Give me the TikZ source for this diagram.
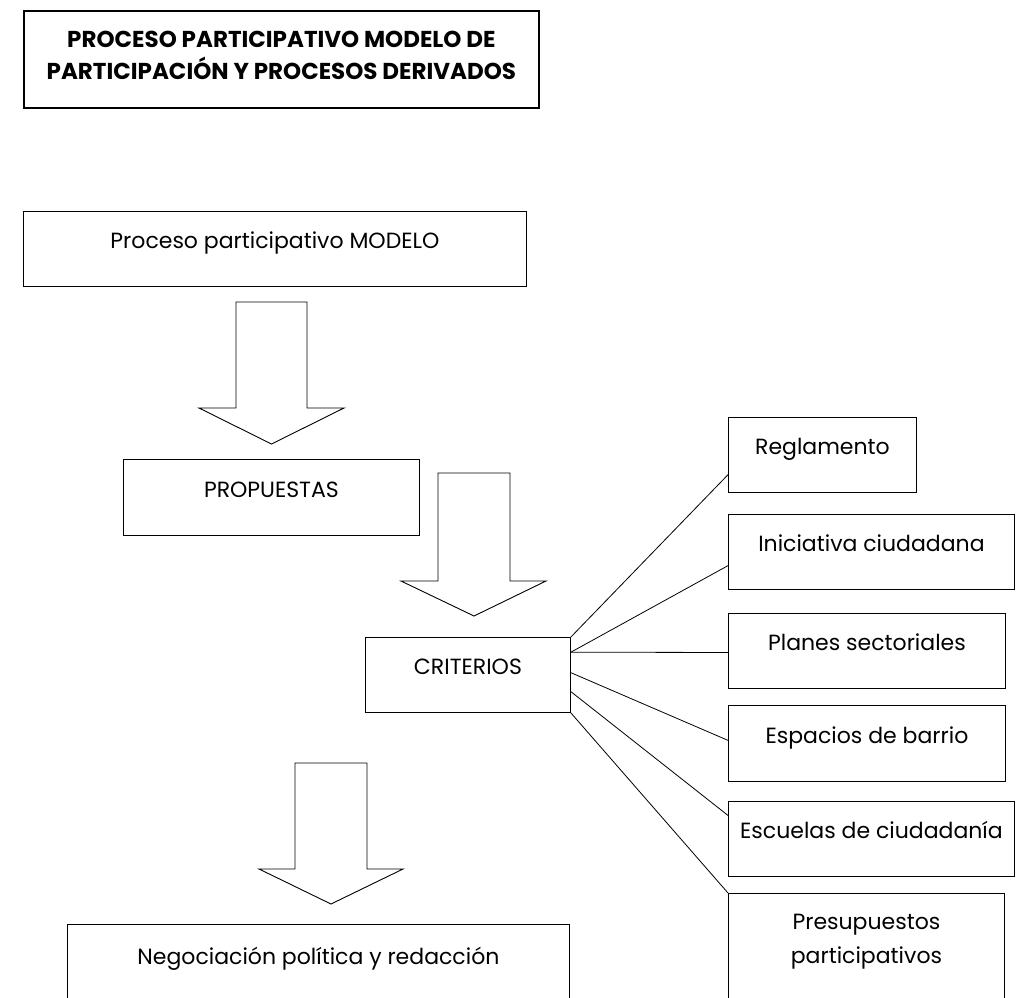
\documentclass[tikz,border=0pt]{standalone}
\usepackage{fontspec}
\setmainfont{Poppins}
\usetikzlibrary{calc}

\tikzset{
  caja/.style={draw, rectangle, line width=0.9pt, inner sep=0pt,
    font=\fontsize{22}{34}\selectfont, text height=13pt, text depth=13pt},
  linea/.style={line width=0.8pt},
  flecha/.style={line width=0.9pt, line join=miter},
}

\begin{document}
\begin{tikzpicture}[x=1pt, y=-1pt]
\clip (0,0) rectangle (1022,997);

% title
\node[draw, line width=1.8pt, anchor=north west, minimum width=515, minimum height=97,
  align=center, text depth=8pt, font=\fontsize{23}{32}\selectfont\bfseries] (titulo) at (23,10)
  {PROCESO PARTICIPATIVO MODELO DE\\PARTICIPACIÓN Y PROCESOS DERIVADOS};

% main column
\node[caja, anchor=north west, minimum width=503, minimum height=75] (modelo) at (23,211) {Proceso participativo MODELO};
\node[caja, anchor=north west, minimum width=296, minimum height=76] (propuestas) at (123,459) {PROPUESTAS};
\node[caja, anchor=north west, minimum width=205, minimum height=75] (criterios) at (365,637) {CRITERIOS};
\node[caja, anchor=north west, minimum width=502, minimum height=80] (negociacion) at (67,924) {Negociación política y redacción};

% block arrows
\draw[flecha] (236,302) -- (307,302) -- (307,408) -- (344,408) -- (271.5,444) -- (199,408) -- (236,408) -- cycle;
\draw[flecha] (438,473) -- (510,473) -- (510,581) -- (546,581) -- (474,616) -- (401,581) -- (438,581) -- cycle;
\draw[flecha] (295,763) -- (367,763) -- (367,869) -- (403,869) -- (331,904) -- (259,869) -- (295,869) -- cycle;

% derived processes
\node[caja, anchor=north west, minimum width=188, minimum height=75] (reg) at (728,417) {Reglamento};
\node[caja, anchor=north west, minimum width=286, minimum height=75] (ini) at (728,514) {Iniciativa ciudadana};
\node[caja, anchor=north west, minimum width=277, minimum height=75] (pla) at (728,613) {Planes sectoriales};
\node[caja, anchor=north west, minimum width=277, minimum height=76] (esp) at (728,705) {Espacios de barrio};
\node[caja, anchor=north west, minimum width=286, minimum height=75] (esc) at (728,801) {Escuelas de ciudadanía};
\node[caja, anchor=north west, minimum width=276, minimum height=110, align=center,
  text height=43pt, text depth=13pt] (pre) at (728,893) {Presupuestos\\participativos};

\draw[linea] (criterios.north east) -- ($(reg.north west)!0.76!(reg.south west)$);
\draw[linea] ($(criterios.north east)!0.2!(criterios.south east)$) -- ($(ini.north west)!0.68!(ini.south west)$);
\draw[linea] ($(criterios.north east)!0.2!(criterios.south east)$) -- ($(pla.north west)!0.52!(pla.south west)$);
\draw[linea] ($(criterios.north east)!0.47!(criterios.south east)$) -- ($(esp.north west)!0.46!(esp.south west)$);
\draw[linea] ($(criterios.north east)!0.72!(criterios.south east)$) -- ($(esc.north west)!0.19!(esc.south west)$);
\draw[linea] (criterios.south east) -- (pre.north west);
\end{tikzpicture}
\end{document}
